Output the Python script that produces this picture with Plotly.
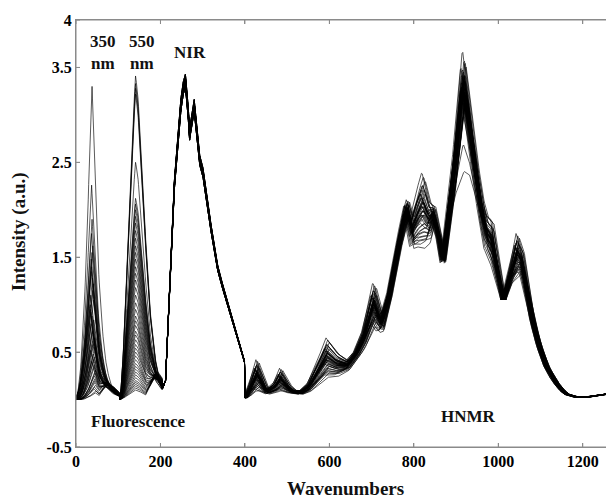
import numpy as np
import plotly.graph_objects as go

# ---------------- data ----------------
# base profiles: (wavenumber, intensity) control points
fl350_x = [0, 4, 10, 18, 26, 32, 36, 38, 41, 44, 47, 52, 58, 65, 72, 80, 90, 104]
fl350_y = [0.0, 0.02, 0.08, 0.25, 0.5, 0.78, 0.95, 1.0, 0.88, 0.75, 0.62, 0.45, 0.3, 0.18, 0.1, 0.05, 0.02, 0.01]
fl350_tail_x = [0, 55, 65, 75, 90, 104]
fl350_tail_y = [0, 0, 0.6, 1.0, 0.8, 0.4]

fl550_x = [105, 108, 115, 122, 130, 136, 141, 146, 152, 160, 168, 176, 184, 192, 200, 204]
fl550_y = [0.0, 0.05, 0.22, 0.45, 0.7, 0.88, 1.0, 0.95, 0.82, 0.62, 0.42, 0.26, 0.14, 0.07, 0.03, 0.02]
fl550_tail_x = [105, 165, 175, 185, 195, 204]
fl550_tail_y = [0, 0, 0.4, 0.9, 1.0, 0.8]

nir_x = [205, 212, 218, 224, 232, 243, 252, 259, 264, 269, 274, 280, 285, 291, 296, 300,
         305, 310, 320, 330, 340, 350, 365, 380, 395, 399]
nir_y = [0.12, 0.2, 0.8, 1.5, 2.2, 2.88, 3.25, 3.36, 3.15, 2.79, 2.95, 3.10, 2.85, 2.56, 2.47, 2.42,
         2.25, 2.1, 1.8, 1.5, 1.3, 1.15, 0.9, 0.68, 0.46, 0.40]

hnmr_x = [400, 410, 420, 428, 440, 452, 470, 484, 500, 515, 531, 550, 570, 594, 615, 641, 660,
          680, 695, 705, 715, 724, 740, 760, 783, 795, 805, 821, 835, 846, 858, 869, 880, 894,
          905, 917, 930, 945, 957, 970, 984, 998, 1012, 1025, 1044, 1055, 1067, 1080, 1091,
          1103, 1115, 1130, 1146, 1160, 1178, 1200, 1230, 1274]
hnmr_base = [0.02, 0.08, 0.18, 0.24, 0.16, 0.08, 0.12, 0.20, 0.12, 0.08, 0.07, 0.12, 0.25, 0.42,
             0.36, 0.35, 0.45, 0.62, 0.85, 0.98, 0.85, 0.80, 1.05, 1.55, 2.0, 1.75, 1.85, 1.95,
             1.85, 1.95, 1.75, 1.45, 1.85, 2.3, 2.8, 3.3, 2.9, 2.4, 2.05, 1.75, 1.65, 1.35, 1.05,
             1.25, 1.5, 1.45, 1.15, 0.85, 0.65, 0.48, 0.34, 0.22, 0.12, 0.06, 0.03, 0.02, 0.04, 0.07]
hnmr_var1 = [0.0, 0.05, 0.12, 0.18, 0.1, 0.03, 0.06, 0.13, 0.06, 0.02, 0.02, 0.05, 0.12, 0.23,
             0.15, 0.06, 0.05, 0.1, 0.2, 0.26, 0.18, 0.1, 0.05, 0.05, 0.12, 0.2, 0.3, 0.45, 0.25,
             0.1, 0.05, 0.05, 0.05, 0.08, 0.05, 0.05, 0.05, 0.1, 0.1, 0.2, 0.25, 0.1, 0.0, 0.05, 0.25,
             0.15, 0.05, 0.0, 0.0, 0.0, 0.0, 0.0, 0.0, 0.0, 0.0, 0.0, 0.0, 0.0]
hnmr_var2 = [0.0, 0.0, 0.0, 0.0, 0.0, 0.0, 0.0, 0.0, 0.0, 0.0, 0.0, 0.0, 0.0, 0.0, 0.0, 0.0, 0.0,
             0.0, 0.0, 0.0, 0.0, 0.0, 0.0, 0.0, 0.0, 0.0, 0.0, 0.0, 0.0, 0.0, 0.0, 0.0, 0.0, 0.2,
             0.6, 1.0, 0.6, 0.3, 0.15, 0.0, 0.0, 0.0, 0.0, 0.0, 0.0, 0.0, 0.0, 0.0, 0.0, 0.0, 0.0,
             0.0, 0.0, 0.0, 0.0, 0.0, 0.0, 0.0]

# per-sample values
fl350_peak = [0.62, 3.30, 0.45, 1.10, 0.28, 2.26, 0.84, 0.15, 1.48, 0.55, 0.72, 1.90, 0.34, 0.95, 0.09,
              1.22, 0.40, 0.65, 1.62, 0.20, 0.52, 1.05, 0.76, 0.31, 1.35, 0.11, 0.88, 0.48, 1.75, 0.25,
              0.58, 1.00, 0.18, 1.28, 0.42, 0.80, 0.07, 1.55, 0.37, 0.68, 0.13, 0.92, 1.15, 0.22, 1.40]
fl350_shift = [2, 0, 5, -3, 7, -1, 4, 8, -2, 6, 1, 0, 5, -4, 9, 3, -1, 6, 2, 7, -3, 4, 1, 8, -2,
               5, 0, 3, -1, 6, 2, -4, 7, 1, 4, -2, 8, 0, 5, 3, 6, -3, 2, 7, -1]
fl350_tail = [0.08, 0.03, 0.12, 0.05, 0.15, 0.04, 0.10, 0.14, 0.06, 0.11, 0.09, 0.05, 0.13, 0.07, 0.16,
              0.06, 0.12, 0.09, 0.04, 0.14, 0.10, 0.07, 0.08, 0.13, 0.05, 0.15, 0.09, 0.11, 0.04, 0.14,
              0.10, 0.06, 0.15, 0.07, 0.12, 0.08, 0.16, 0.05, 0.11, 0.09, 0.14, 0.07, 0.06, 0.13, 0.05]
fl550_peak = [1.40, 0.46, 3.41, 0.88, 2.06, 0.23, 1.18, 0.63, 3.28, 0.14, 1.62, 0.38, 0.95, 2.50, 0.29,
              1.86, 0.54, 0.10, 1.26, 3.33, 0.72, 0.18, 1.48, 0.42, 2.12, 0.83, 0.26, 1.02, 0.58, 1.70,
              0.35, 3.22, 0.12, 1.33, 0.68, 2.00, 0.20, 0.78, 1.55, 0.32, 1.10, 0.50, 1.93, 0.16, 1.78]
fl550_tail = [0.15, 0.22, 0.08, 0.18, 0.12, 0.25, 0.10, 0.20, 0.06, 0.27, 0.14, 0.19, 0.11, 0.09, 0.24,
              0.13, 0.21, 0.28, 0.16, 0.07, 0.17, 0.23, 0.12, 0.20, 0.10, 0.15, 0.26, 0.13, 0.18, 0.11,
              0.22, 0.08, 0.25, 0.14, 0.19, 0.10, 0.24, 0.16, 0.12, 0.21, 0.15, 0.18, 0.09, 0.26, 0.13]
nir_scale = [1.00, 0.99, 1.01, 0.98, 1.00, 1.02, 0.99, 1.00, 1.01, 0.98, 1.00, 0.99, 1.02, 1.00, 0.99,
             1.01, 0.98, 1.00, 1.01, 0.99, 1.00, 1.02, 0.98, 1.00, 0.99, 1.01, 1.00, 0.99, 1.02, 0.98,
             1.00, 1.01, 0.99, 1.00, 0.98, 1.01, 1.00, 0.99, 1.02, 1.00, 0.98, 1.01, 0.99, 1.00, 1.01]
hnmr_a = [0.2, -0.3, 1.0, 0.5, -0.6, 0.1, 0.7, -0.2, 0.0, 0.4, -0.5, 0.3, 0.8, -0.1, 0.2,
          -0.4, 0.6, 0.0, -0.7, 0.3, 0.1, -0.2, 0.5, 0.9, -0.3, 0.2, 0.0, -0.5, 0.4, 0.1,
          -0.1, 0.6, -0.6, 0.3, 0.0, 0.7, -0.4, 0.2, -0.2, 0.5, 0.1, -0.8, 0.4, 0.0, 0.3]
hnmr_b = [0.0, 0.1, 0.35, -0.1, 0.05, -0.9, 0.15, 0.0, -0.2, 0.1, 0.05, -0.05, 0.2, 0.0, -0.15,
          0.1, 0.25, -0.1, 0.0, 0.05, -0.3, 0.15, 0.0, 0.1, -0.05, 0.2, 0.0, -0.1, 0.05, 0.3,
          -0.6, 0.1, 0.0, -0.05, 0.15, 0.05, -0.2, 0.0, 0.1, 0.2, -0.1, 0.05, 0.0, 0.15, -0.05]
hnmr_shift = [0, 4, -2, 6, -4, 2, 0, -6, 4, 2, -2, 0, 6, -4, 2, 0, 4, -2, -6, 2, 0, 4, -4, 2, 6,
              -2, 0, 4, -4, 2, 0, -2, 6, 2, -4, 0, 4, -2, 2, -6, 0, 4, -2, 2, 0]

x_range = [0, 1274]
y_range = [-0.5, 4]
x_ticks = [0, 200, 400, 600, 800, 1000, 1200]
x_ticktext = ["0", "200", "400", "600", "800", "1000", "1200"]
y_ticks = [-0.5, 0.5, 1.5, 2.5, 3.5, 4]
y_ticktext = ["-0.5", "0.5", "1.5", "2.5", "3.5", "4"]

# ---------------- build spectra ----------------
x1 = np.arange(0, 105, 1.0)
x2 = np.arange(105, 205, 1.0)
x3 = np.arange(205, 400, 1.0)
x4 = np.arange(400, 1275, 2.0)
xall = np.concatenate([x1, x2, x3, x4])

FONT = "Liberation Serif"
GREY = "#8a8a8a"
fig = go.Figure()
for i in range(len(fl350_peak)):
    s1 = fl350_peak[i] * np.interp(x1 - fl350_shift[i], fl350_x, fl350_y) \
        + fl350_tail[i] * np.interp(x1, fl350_tail_x, fl350_tail_y)
    s2 = fl550_peak[i] * np.interp(x2, fl550_x, fl550_y) \
        + fl550_tail[i] * np.interp(x2, fl550_tail_x, fl550_tail_y)
    s3 = nir_scale[i] * np.interp(x3, nir_x, nir_y)
    xs = x4 - hnmr_shift[i]
    s4 = (np.interp(xs, hnmr_x, hnmr_base) + hnmr_a[i] * np.interp(xs, hnmr_x, hnmr_var1)
          + hnmr_b[i] * np.interp(xs, hnmr_x, hnmr_var2))
    s4 = np.clip(s4, 0.0, None)
    yall = np.concatenate([s1, s2, s3, s4])
    fig.add_trace(go.Scatter(x=xall, y=yall, mode="lines",
                             line=dict(color="rgba(0,0,0,0.72)", width=0.9),
                             showlegend=False))

# ---------------- frame and inside ticks (drawn as a trace so they always render) ----------------
x0, x1_ = x_range
y0, y1_ = y_range
tick_dx = 4 / 0.4227          # 4 px expressed in x units
tick_dy = 4 / 94.9            # 4 px expressed in y units
fx = [x0, x0, x1_, None, x0, x1_, None]
fy = [y0, y1_, y1_, None, y0, y0, None]
for t in x_ticks:
    fx += [t, t, None, t, t, None]
    fy += [y0, y0 + tick_dy, None, y1_, y1_ - tick_dy, None]
for t in y_ticks:
    fx += [x0, x0 + tick_dx, None, x1_, x1_ - tick_dx, None]
    fy += [t, t, None, t, t, None]
fig.add_trace(go.Scatter(x=fx, y=fy, mode="lines", line=dict(color=GREY, width=1),
                         cliponaxis=False, showlegend=False, hoverinfo="skip"))

axis_common = dict(showline=True, linecolor=GREY, linewidth=1, mirror="ticks",
                   ticks="inside", ticklen=4, tickcolor=GREY, tickwidth=1, showgrid=False,
                   zeroline=False, tickfont=dict(family=FONT, size=16, color="black"))

# the page body adds an 8 px margin, so the figure is 8 px smaller and offset
fig.update_layout(
    width=606, height=490,
    margin=dict(l=68, r=0, t=12, b=51, autoexpand=False),
    paper_bgcolor="white", plot_bgcolor="white",
    xaxis=dict(range=x_range, tickvals=x_ticks, ticktext=[f"<b>{t}</b>" for t in x_ticktext],
               **axis_common),
    yaxis=dict(range=y_range, tickvals=y_ticks, ticktext=[f"<b>{t}</b>" for t in y_ticktext],
               **axis_common),
    font=dict(family=FONT, color="black"),
)

def label(text, x, y, size=17, **kw):
    fig.add_annotation(text=f"<b>{text}</b>", x=x, y=y, showarrow=False,
                       font=dict(family=FONT, size=size, color="#111"), **kw)

label("350<br>nm", 63, 3.66)
label("550<br>nm", 157, 3.66)
label("NIR", 271, 3.66)
label("Fluorescence", 147, -0.235)
label("HNMR", 929, -0.18)
label("Wavenumbers", 0.5, 0, size=19, xref="paper", yref="paper", yshift=-41, yanchor="middle")
label("Intensity (a.u.)", 0, 0.503, size=19, xref="paper", yref="paper", xshift=-57,
      textangle=-90, xanchor="center")

fig.write_html("out.html")
